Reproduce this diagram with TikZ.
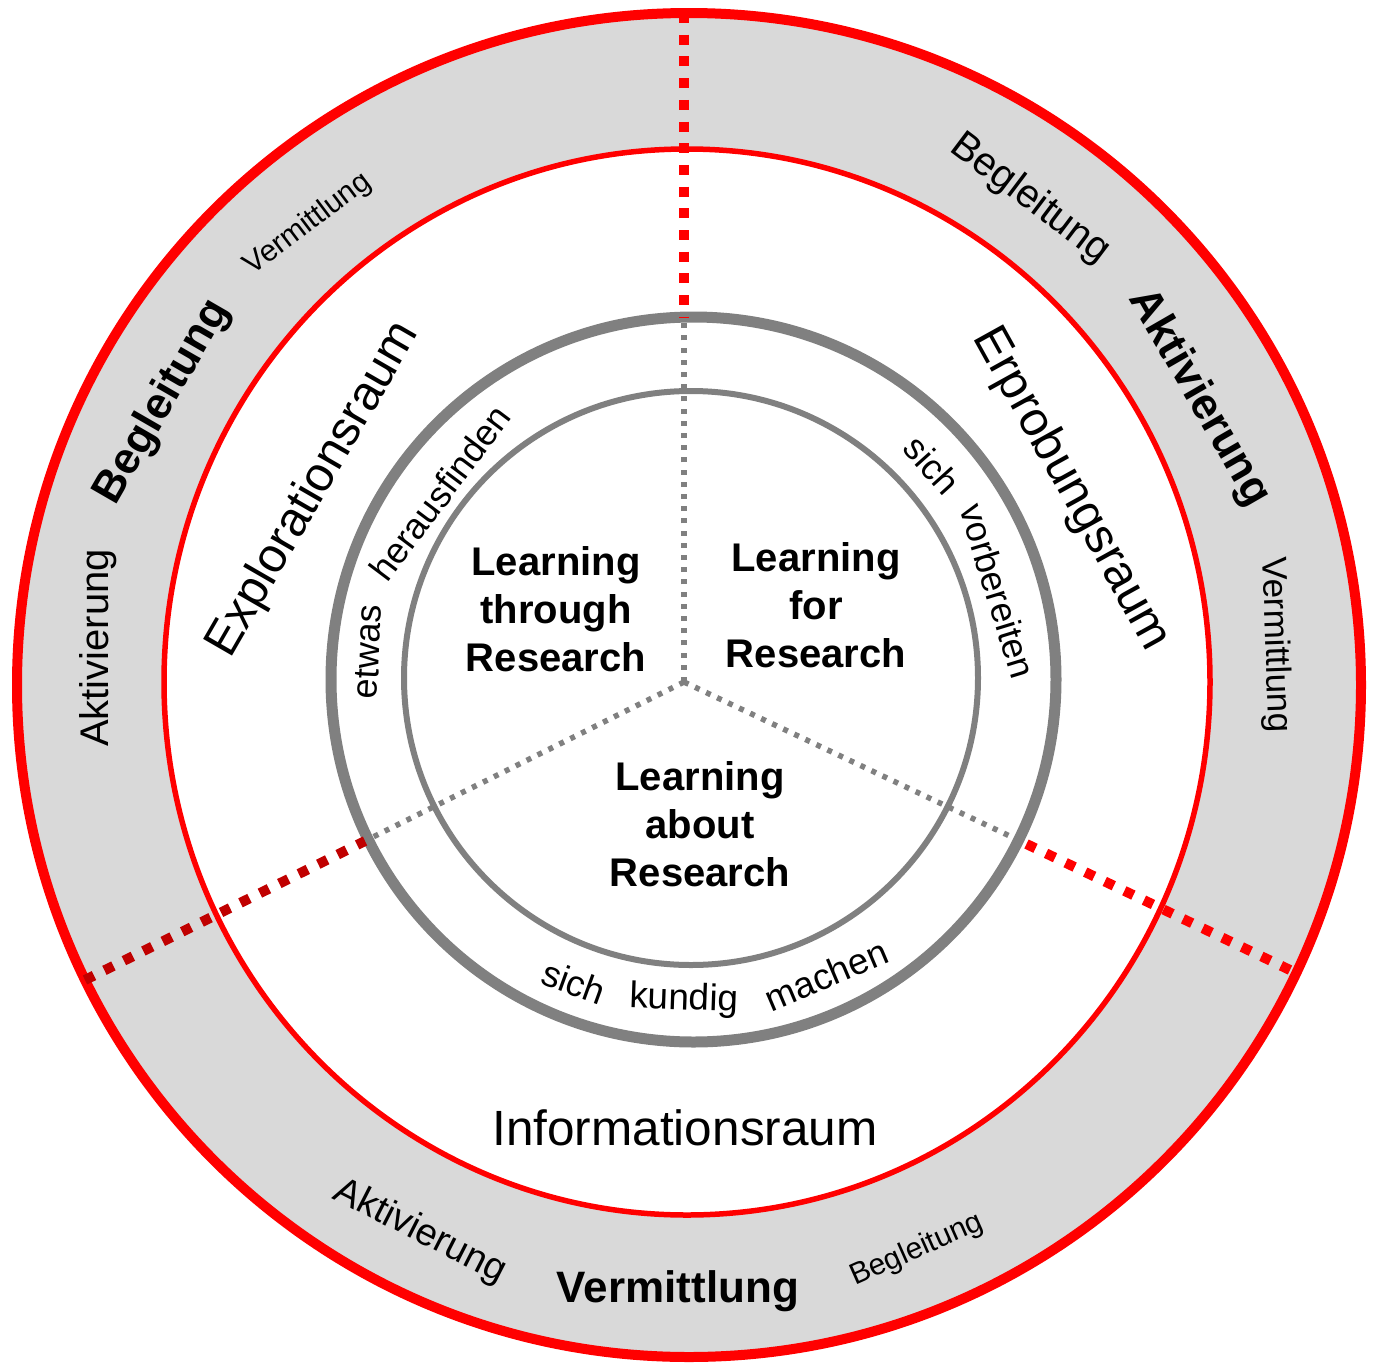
\documentclass[tikz,border=0pt]{standalone}
\usepackage{fontspec}
\setmainfont{Liberation Sans}
\definecolor{bandgray}{HTML}{D9D9D9}
\definecolor{ringgray}{HTML}{808080}
\definecolor{darkred}{HTML}{C00000}
\begin{document}
\begin{tikzpicture}[x=1pt,y=-1pt,
  txt/.style={font=\fontsize{#1}{#1}\selectfont, inner sep=0pt},
  txtb/.style={font=\fontsize{#1}{#1}\selectfont\bfseries, inner sep=0pt},
  centre/.style={font=\fontsize{40}{48}\selectfont\bfseries, align=center, inner sep=0pt},
  reddash/.style={draw=#1, line width=10pt, dash pattern=on 10pt off 11.7pt},
  greydot/.style={draw=ringgray, line width=5.5pt, dash pattern=on 5pt off 7.2pt}
]
\useasboundingbox (0,0) rectangle (1374,1363);
\fill[white] (0,0) rectangle (1374,1363);
% grey band
\fill[bandgray, even odd rule] (689,685) circle[radius=672pt] (687,682) ellipse[x radius=523pt, y radius=533pt];
% rings
\draw[red, line width=10pt] (689,685) circle[radius=672pt];
\draw[red, line width=5.5pt] (687,682) ellipse[x radius=523pt, y radius=533pt];
\draw[ringgray, line width=11pt] (693.5,679.5) circle[radius=362.5pt];
\draw[ringgray, line width=6pt] (691,678) circle[radius=287pt];
% spokes
\coordinate (S) at (684,682);
\coordinate (To) at (684,13);
\coordinate (Tt) at (684,318);
\coordinate (Lo) at (85,980);
\coordinate (Lt) at (365,841);
\coordinate (Ro) at (1290,970);
\coordinate (Rt) at (1016,839);
\draw[greydot] (S) -- (Tt);
\draw[greydot] (S) -- (Lt);
\draw[greydot] (S) -- (Rt);
\draw[reddash=red] (To) -- (Tt);
\draw[reddash=darkred] (Lo) -- (Lt);
\draw[reddash=red] (Ro) -- (Rt);
% centre texts
\node[centre] (lthr) at (556,609) {Learning\\through\\Research};
\node[centre] (lfor) at (816,605) {Learning\\for\\Research};
\node[centre] (labt) at (700,824) {Learning\\about\\Research};
% grey ring words
\node[txt=36, rotate=87] (etwas) at (368,652) {etwas};
\node[txt=36, rotate=53] (herf) at (440,493) {herausfinden};
\node[txt=36, rotate=-48] (sichA) at (932,465) {sich};
\node[txt=36, rotate=-73] (vorb) at (998,591) {vorbereiten};
\node[txt=36.5, rotate=-20] (sichB) at (574,982) {sich};
\node[txt=37, rotate=-2] (kundig) at (684,1000) {kundig};
\node[txt=36.5, rotate=23] (machen) at (826,975) {machen};
% white ring
\node[txt=48.5, rotate=60] (expl) at (314,490) {Explorationsraum};
\node[txt=48.5, rotate=-61] (erpr) at (1071,489) {Erprobungsraum};
\node[txt=49.5, anchor=base] (info) at (685,1145) {Informationsraum};
% outer band
\node[txt=40, rotate=90] (aktL) at (98,648) {Aktivierung};
\node[txtb=44, rotate=60] (begL) at (163,402) {Begleitung};
\node[txt=30, rotate=37] (verL) at (308,224) {Vermittlung};
\node[txt=40, rotate=-37] (begR) at (1030,199) {Begleitung};
\node[txtb=44, rotate=-60] (aktR) at (1199,398) {Aktivierung};
\node[txt=35, rotate=-88] (verR) at (1275,645) {Vermittlung};
\node[txt=38, rotate=-27] (aktB) at (420,1232) {Aktivierung};
\node[txtb=44, anchor=base] (verB) at (678,1302) {Vermittlung};
\node[txt=30, rotate=24] (begB) at (917,1250) {Begleitung};
\end{tikzpicture}
\end{document}
